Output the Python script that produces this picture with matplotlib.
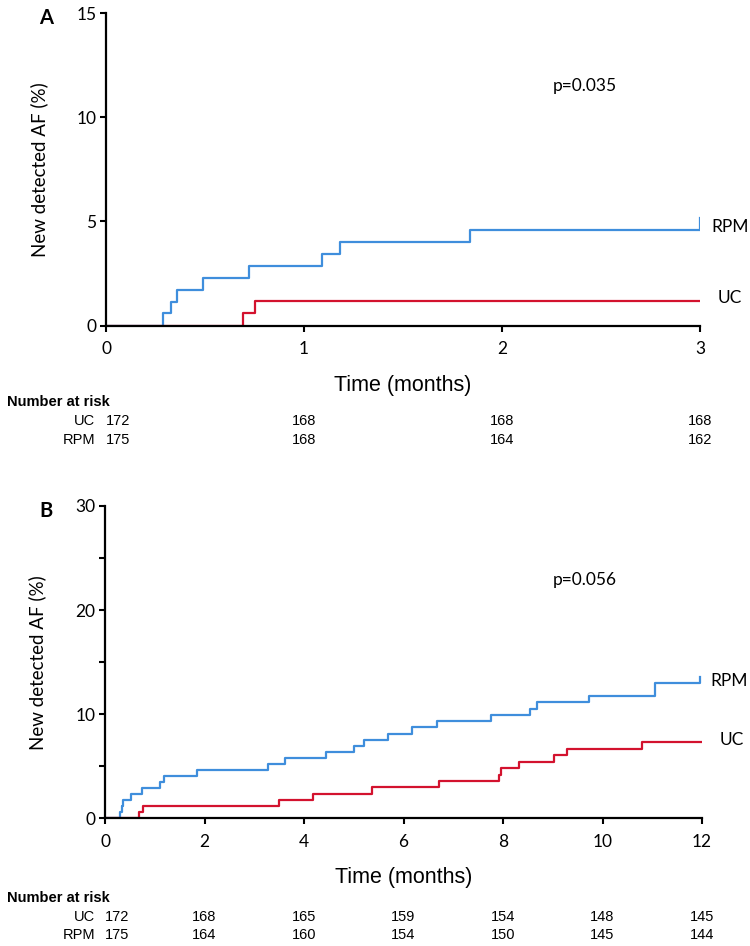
import numpy as np
import matplotlib
matplotlib.use("Agg")
import matplotlib.pyplot as plt
from matplotlib import transforms
from matplotlib.ticker import MultipleLocator

# panel A (3 months): cumulative incidence steps
a_rpm_t = [0, 0.29, 0.33, 0.36, 0.49, 0.72, 1.09, 1.18, 1.84, 3.0]
a_rpm_v = [0, 0.59, 1.16, 1.73, 2.31, 2.88, 3.45, 4.02, 4.60, 5.18]
a_uc_t = [0, 0.69, 0.755, 3.0]
a_uc_v = [0, 0.60, 1.18, 1.18]

# panel B (12 months)
b_rpm_t = [0, 0.30, 0.335, 0.37, 0.52, 0.74, 1.10, 1.19, 1.85, 3.28, 3.61, 4.44,
           5.00, 5.20, 5.68, 6.18, 6.67, 7.75, 8.54, 8.69, 9.72, 11.06, 11.95]
b_rpm_v = [0, 0.60, 1.17, 1.74, 2.30, 2.87, 3.45, 4.02, 4.60, 5.18, 5.77, 6.36,
           6.95, 7.54, 8.13, 8.73, 9.33, 9.93, 10.53, 11.13, 11.75, 12.95, 13.57]
b_uc_t = [0, 0.69, 0.77, 3.49, 4.19, 5.36, 6.71, 7.92, 7.96, 8.33, 9.03, 9.28, 10.80, 12.0]
b_uc_v = [0, 0.58, 1.16, 1.76, 2.37, 2.96, 3.57, 4.20, 4.80, 5.43, 6.05, 6.67, 7.30, 7.30]

# number at risk
a_risk_t = [0, 1, 2, 3]
a_risk_uc = [172, 168, 168, 168]
a_risk_rpm = [175, 168, 164, 162]
b_risk_t = [0, 2, 4, 6, 8, 10, 12]
b_risk_uc = [172, 168, 165, 159, 154, 148, 145]
b_risk_rpm = [175, 164, 160, 154, 150, 145, 144]

BLUE = "#3f8edc"
RED = "#d3122e"
W, H = 750, 946
CAL = ["Lato", "DejaVu Sans"]
NARROW = ["Liberation Sans Narrow", "Liberation Sans", "DejaVu Sans"]


def px(x, y):
    return x / W, 1 - y / H


def draw_panel(fig, rect, letter, rpm_t, rpm_v, uc_t, uc_v, xmax, xstep, ymax, ystep, yminor,
               pval, pxy, risk_t, risk_uc, risk_rpm, rows_y):
    ax = fig.add_axes(rect)
    ax.step(rpm_t, rpm_v, where="post", color=BLUE, lw=1.6, zorder=2)
    ax.step(uc_t, uc_v, where="post", color=RED, lw=1.6, zorder=2)
    ax.set_xlim(0, xmax)
    ax.set_ylim(0, ymax)
    ax.xaxis.set_major_locator(MultipleLocator(xstep))
    ax.yaxis.set_major_locator(MultipleLocator(ystep))
    if yminor:
        ax.yaxis.set_minor_locator(MultipleLocator(yminor))
    for s in ["top", "right"]:
        ax.spines[s].set_visible(False)
    for s in ["left", "bottom"]:
        ax.spines[s].set_linewidth(1.6)
        ax.spines[s].set_zorder(3)
    ax.tick_params(which="both", direction="out", length=4, width=1.5, labelsize=12.5)
    ax.tick_params(axis="y", which="minor", length=4)
    ax.tick_params(axis="x", pad=7)
    ax.tick_params(axis="y", pad=3)
    for lab in ax.get_xticklabels() + ax.get_yticklabels():
        lab.set_family(CAL)
    ax.set_ylabel("New detected AF (%)", fontsize=13.5, family=CAL)
    ax.yaxis.set_label_coords(-0.098, 0.5)
    ax.set_xlabel("Time (months)", fontsize=15.5, family=NARROW, va="center")
    ax.xaxis.set_label_coords(0.5, -0.19)

    ax.text(pxy[0], pxy[1], pval, fontsize=12.5, family=CAL, ha="center", va="center")
    ax.annotate("RPM", xy=(rpm_t[-1], rpm_v[-2]), xytext=(8, 2), textcoords="offset points",
                fontsize=12.5, family=CAL, ha="left", va="center")
    ax.annotate("UC", xy=(uc_t[-1], uc_v[-2]), xytext=(13, 2), textcoords="offset points",
                fontsize=12.5, family=CAL, ha="left", va="center")

    bb = ax.get_position()
    fig.text(px(46, 0)[0], bb.y1 - 5 / H, letter, fontsize=14.5, fontweight="bold",
             family=CAL, ha="center", va="center")

    # risk table
    trans = transforms.blended_transform_factory(ax.transData, fig.transFigure)
    ny, uy, ry = rows_y
    fig.text(px(7, 0)[0], px(0, ny)[1], "Number at risk", fontsize=10.5, fontweight="bold",
             family=NARROW, ha="left", va="center")
    fig.text(px(95, 0)[0], px(0, uy)[1], "UC", fontsize=10.5, family=NARROW, ha="right", va="center")
    fig.text(px(95, 0)[0], px(0, ry)[1], "RPM", fontsize=10.5, family=NARROW, ha="right", va="center")
    for i, t in enumerate(risk_t):
        ha = "left" if i == 0 else "center"
        ax.text(t, px(0, uy)[1], str(risk_uc[i]), transform=trans, fontsize=10.5,
                family=NARROW, ha=ha, va="center", clip_on=False)
        ax.text(t, px(0, ry)[1], str(risk_rpm[i]), transform=trans, fontsize=10.5,
                family=NARROW, ha=ha, va="center", clip_on=False)
    return ax


fig = plt.figure(figsize=(7.5, 9.46), dpi=100)

ra = [106 / W, 1 - 325.7 / H, 594 / W, (325.7 - 13) / H]
rb = [105 / W, 1 - 818.3 / H, 597 / W, (818.3 - 506) / H]

draw_panel(fig, ra, "A", a_rpm_t, a_rpm_v, a_uc_t, a_uc_v, 3, 1, 15, 5, None,
           "p=0.035", (2.42, 11.5), a_risk_t, a_risk_uc, a_risk_rpm, (402, 421, 440))
draw_panel(fig, rb, "B", b_rpm_t, b_rpm_v, b_uc_t, b_uc_v, 12, 2, 30, 10, 5,
           "p=0.056", (9.65, 22.9), b_risk_t, b_risk_uc, b_risk_rpm, (898, 917, 935))

fig.savefig("out.png", dpi=100)
